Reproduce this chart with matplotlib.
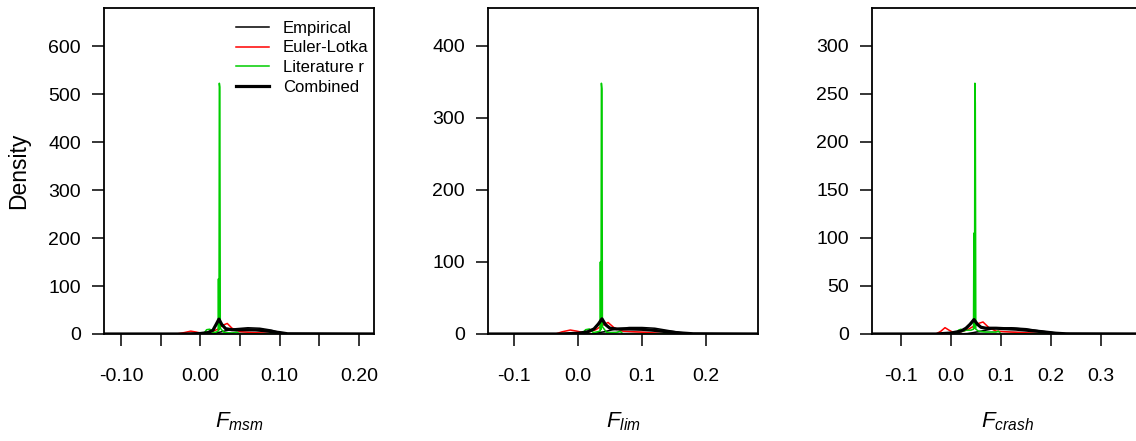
import matplotlib
matplotlib.use("Agg")
import matplotlib.pyplot as plt

plt.rcParams['font.family'] = ['Liberation Sans', 'DejaVu Sans']
plt.rcParams['mathtext.fontset'] = 'custom'
plt.rcParams['mathtext.it'] = 'Liberation Sans:italic'
plt.rcParams['mathtext.rm'] = 'Liberation Sans'
plt.rcParams['axes.unicode_minus'] = False

RED = '#FF0000'
GREEN = '#00CD00'
GREY = '#9A9A9A'

# ---- F_msm ----
emp_x_msm = [-0.13, 0.005, 0.02, 0.03, 0.045, 0.06, 0.075, 0.09, 0.10, 0.11, 0.23]
emp_y_msm = [0, 0, 2, 6, 11, 13, 12, 8, 3, 0.5, 0]
grey_x_msm = [-0.13, 0.008, 0.03, 0.05, 0.07, 0.09, 0.11, 0.23]
grey_y_msm = [0, 0, 2, 4, 3, 1.5, 0.3, 0]
el_x_msm = [-0.13, -0.03, -0.02, -0.012, -0.005, 0.0, 0.008, 0.015, 0.022,
            0.028, 0.034, 0.040, 0.05, 0.065, 0.08, 0.1, 0.23]
el_y_msm = [0, 0, 3, 6, 4, 2, 3, 5, 10, 18, 22, 12, 5, 3, 2, 0, 0]
lit_x_msm = [-0.13, 0.004, 0.008, 0.012, 0.016, 0.02, 0.0225, 0.0229, 0.0233,
             0.0236, 0.024, 0.0246, 0.0252, 0.03, 0.04, 0.046, 0.05, 0.23]
lit_y_msm = [0, 0, 9, 10, 3, 4, 6, 115, 8, 10, 523, 515, 12, 3, 2, 4, 0, 0]
comb_x_msm = [-0.13, -0.02, 0.0, 0.01, 0.016, 0.02, 0.0235, 0.027, 0.032, 0.04,
              0.05, 0.06, 0.07, 0.08, 0.09, 0.1, 0.11, 0.23]
comb_y_msm = [0, 0, 1, 3, 8, 20, 31, 20, 11, 9, 9, 9, 8.5, 7, 5, 3, 0.5, 0]

# ---- F_lim ----
emp_x_lim = [-0.15, 0.02, 0.04, 0.06, 0.08, 0.10, 0.12, 0.14, 0.16, 0.18, 0.29]
emp_y_lim = [0, 0, 3, 7, 9, 9, 8, 5, 2, 0.5, 0]
grey_x_lim = [-0.15, 0.012, 0.04, 0.07, 0.10, 0.13, 0.16, 0.29]
grey_y_lim = [0, 0, 1.5, 3, 2.5, 1.2, 0.2, 0]
el_x_lim = [-0.15, -0.035, -0.025, -0.012, -0.002, 0.008, 0.018, 0.028, 0.038,
            0.047, 0.056, 0.07, 0.09, 0.11, 0.14, 0.29]
el_y_lim = [0, 0, 3, 5.5, 4, 2, 3, 6, 12, 16, 9, 4, 3, 2, 0, 0]
lit_x_lim = [-0.15, 0.006, 0.012, 0.018, 0.024, 0.03, 0.0345, 0.035, 0.0356,
             0.036, 0.0366, 0.0374, 0.0382, 0.045, 0.06, 0.066, 0.07, 0.29]
lit_y_lim = [0, 0, 6, 7, 2, 3, 4, 100, 6, 8, 348, 340, 10, 2, 2, 4, 0, 0]
comb_x_lim = [-0.15, -0.03, 0.0, 0.015, 0.025, 0.032, 0.0375, 0.043, 0.05, 0.06,
              0.08, 0.10, 0.12, 0.14, 0.16, 0.18, 0.29]
comb_y_lim = [0, 0, 1, 3, 7, 14, 21, 13, 8, 7, 7, 6.5, 5, 3, 1.5, 0.3, 0]

# ---- F_crash ----
emp_x_crash = [-0.17, 0.03, 0.06, 0.09, 0.12, 0.15, 0.18, 0.21, 0.24, 0.40]
emp_y_crash = [0, 0, 3, 6, 6.5, 5.5, 3, 1, 0.2, 0]
grey_x_crash = [-0.17, 0.015, 0.05, 0.09, 0.13, 0.17, 0.21, 0.40]
grey_y_crash = [0, 0, 1.5, 2.5, 2, 1, 0.2, 0]
el_x_crash = [-0.17, -0.03, -0.02, -0.012, -0.004, 0.005, 0.015, 0.025, 0.035,
              0.045, 0.055, 0.064, 0.075, 0.09, 0.12, 0.16, 0.2, 0.40]
el_y_crash = [0, 0, 3, 6.6, 4, 1.5, 2, 3, 5, 8, 11, 12.5, 7, 3, 2, 1, 0, 0]
lit_x_crash = [-0.17, 0.01, 0.015, 0.02, 0.025, 0.03, 0.04, 0.045, 0.0458, 0.0464,
               0.047, 0.0478, 0.0486, 0.0496, 0.055, 0.07, 0.09, 0.095, 0.1, 0.40]
lit_y_crash = [0, 0, 4, 5, 3, 4, 4, 5, 105, 6, 10, 261, 240, 5, 3, 2, 2, 3, 0, 0]
comb_x_crash = [-0.17, -0.03, 0.0, 0.02, 0.03, 0.038, 0.046, 0.053, 0.06, 0.07,
                0.09, 0.11, 0.13, 0.15, 0.18, 0.21, 0.23, 0.40]
comb_y_crash = [0, 0, 1, 3, 6, 10, 15, 10, 7, 6, 6, 5.5, 5, 4, 2.5, 0.8, 0.2, 0]

panels = [
    dict(emp=(emp_x_msm, emp_y_msm), grey=(grey_x_msm, grey_y_msm),
         el=(el_x_msm, el_y_msm), lit=(lit_x_msm, lit_y_msm),
         comb=(comb_x_msm, comb_y_msm),
         xlim=(-0.1214, 0.219),
         xticks=[-0.10, -0.05, 0.00, 0.05, 0.10, 0.15, 0.20],
         xlabels=['-0.10', '', '0.00', '', '0.10', '', '0.20'],
         yticks=[0, 100, 200, 300, 400, 500, 600],
         xname=r'$F_{msm}$'),
    dict(emp=(emp_x_lim, emp_y_lim), grey=(grey_x_lim, grey_y_lim),
         el=(el_x_lim, el_y_lim), lit=(lit_x_lim, lit_y_lim),
         comb=(comb_x_lim, comb_y_lim),
         xlim=(-0.1406, 0.2813),
         xticks=[-0.1, 0.0, 0.1, 0.2],
         xlabels=['-0.1', '0.0', '0.1', '0.2'],
         yticks=[0, 100, 200, 300, 400],
         xname=r'$F_{lim}$'),
    dict(emp=(emp_x_crash, emp_y_crash), grey=(grey_x_crash, grey_y_crash),
         el=(el_x_crash, el_y_crash), lit=(lit_x_crash, lit_y_crash),
         comb=(comb_x_crash, comb_y_crash),
         xlim=(-0.158, 0.382),
         xticks=[-0.1, 0.0, 0.1, 0.2, 0.3],
         xlabels=['-0.1', '0.0', '0.1', '0.2', '0.3'],
         yticks=[0, 50, 100, 150, 200, 250, 300],
         xname=r'$F_{crash}$'),
]

W, H = 1136, 441
fig = plt.figure(figsize=(W / 100, H / 100), dpi=100)

for i, p in enumerate(panels):
    left = 104 + 384 * i
    ax = fig.add_axes([left / W, (H - 334) / H, 270 / W, 326 / H])
    ax.plot(*p['grey'], color=GREY, lw=1.1)
    ax.plot(*p['emp'], color='black', lw=1.1, label='Empirical')
    ax.plot(*p['el'], color=RED, lw=1.1, label='Euler-Lotka')
    ax.plot(*p['lit'], color=GREEN, lw=1.1, label='Literature r')
    ax.plot(*p['comb'], color='black', lw=2.3, label='Combined')

    ax.set_xlim(*p['xlim'])
    ax.set_ylim(0, max(p['lit'][1]) * 1.3)
    ax.set_xticks(p['xticks'])
    ax.set_xticklabels(p['xlabels'])
    ax.set_yticks(p['yticks'])
    for s in ax.spines.values():
        s.set_linewidth(1.3)
    ax.tick_params(axis='both', direction='out', length=8.5, width=1.1,
                   labelsize=14)
    ax.tick_params(axis='x', pad=16)
    ax.tick_params(axis='y', pad=8)
    ax.set_xlabel(p['xname'], fontsize=16, labelpad=18)

    if i == 0:
        ax.set_ylabel('Density', fontsize=16.5, labelpad=13)
        ax.legend(loc='upper left', bbox_to_anchor=((236 - 104) / 270, 1 - 13 / 326),
                  frameon=False, fontsize=12, handlelength=1.95,
                  handletextpad=0.85, labelspacing=0.27, borderpad=0,
                  borderaxespad=0)

fig.savefig('out.png', dpi=100)
